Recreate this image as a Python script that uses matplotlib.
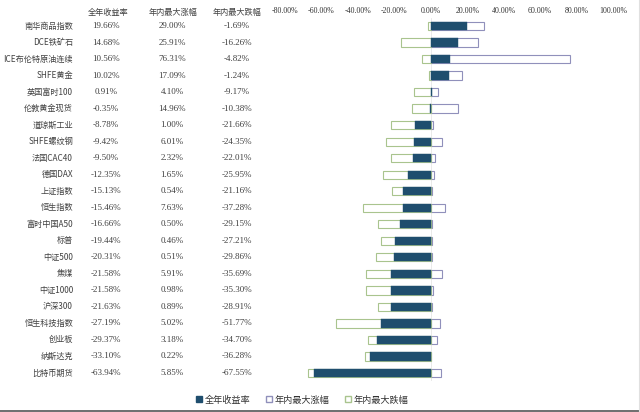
import matplotlib
matplotlib.use("Agg")
import matplotlib.pyplot as plt
from matplotlib.patches import Patch
from matplotlib.lines import Line2D
import matplotlib.ticker as mticker
import matplotlib.transforms as mtrans

plt.rcParams['font.family'] = ['Noto Sans CJK SC', 'DejaVu Sans']

names = ["南华商品指数", "DCE铁矿石", "ICE布伦特原油连续", "SHFE黄金", "英国富时100",
         "伦敦黄金现货", "道琼斯工业", "SHFE螺纹钢", "法国CAC40", "德国DAX", "上证指数",
         "恒生指数", "富时中国A50", "标普", "中证500", "焦煤", "中证1000", "沪深300",
         "恒生科技指数", "创业板", "纳斯达克", "比特币期货"]
ret = [19.66, 14.68, 10.56, 10.02, 0.91, -0.35, -8.78, -9.42, -9.50, -12.35, -15.13,
       -15.46, -16.66, -19.44, -20.31, -21.58, -21.58, -21.63, -27.19, -29.37, -33.10, -63.94]
gain = [29.00, 25.91, 76.31, 17.09, 4.10, 14.96, 1.00, 6.01, 2.32, 1.65, 0.54,
        7.63, 0.50, 0.46, 0.51, 5.91, 0.98, 0.89, 5.02, 3.18, 0.22, 5.85]
drop = [-1.69, -16.26, -4.82, -1.24, -9.17, -10.38, -21.66, -24.35, -22.01, -25.95, -21.16,
        -37.28, -29.15, -27.21, -29.86, -35.69, -35.30, -28.91, -51.77, -34.70, -36.28, -67.55]
headers = ["全年收益率", "年内最大涨幅", "年内最大跌幅"]
xticks = [-80, -60, -40, -20, 0, 20, 40, 60, 80, 100]

NAVY = "#1f4e6e"
GAIN_EC = "#9090bb"
DROP_EC = "#a9c48e"
TXT = "#404040"

W, H = 640, 412
fig = plt.figure(figsize=(6.4, 4.12), dpi=100)
fig.patch.set_facecolor("white")
y0, y1 = 26 - 8.26, 373 + 8.26
ax = fig.add_axes([285 / W, 1 - y1 / H, (613 - 285) / W, (y1 - y0) / H])
n = len(names)
ys = list(range(n))
h = 0.5
ax.barh(ys, gain, height=h, color="white", edgecolor=GAIN_EC, linewidth=0.8, zorder=2)
ax.barh(ys, drop, height=h, color="white", edgecolor=DROP_EC, linewidth=0.8, zorder=2)
ax.barh(ys, ret, height=h, color=NAVY, edgecolor=NAVY, linewidth=0.3, zorder=3)
ax.axvline(0, color="#e6e6e6", lw=0.6, zorder=1)
ax.set_xlim(-80, 100)
ax.set_ylim(n - 0.5, -0.5)
ax.set_yticks([])
ax.xaxis.tick_top()
ax.set_xticks(xticks)
ax.xaxis.set_major_formatter(mticker.FuncFormatter(lambda v, _: f"{v:.2f}%"))
ax.tick_params(axis="x", length=0, pad=2, labelsize=5.7, labelcolor="#333333")
for lab in ax.get_xticklabels():
    lab.set_fontfamily(["Liberation Serif"])
for sp in ax.spines.values():
    sp.set_visible(False)

# table on the left
blend = mtrans.blended_transform_factory(fig.transFigure, ax.transData)
for i, nm in enumerate(names):
    fig.text(73 / W, i, nm, transform=blend, ha="right", va="center", fontsize=5.9, color=TXT)
    fig.text(106 / W, i, f"{ret[i]:.2f}%", transform=blend, ha="center", va="center",
             fontsize=6.5, color=TXT, family=["Liberation Serif"])
    fig.text(172 / W, i, f"{gain[i]:.2f}%", transform=blend, ha="center", va="center",
             fontsize=6.5, color=TXT, family=["Liberation Serif"])
    fig.text(237 / W, i, f"{drop[i]:.2f}%", transform=blend, ha="center", va="center",
             fontsize=6.5, color=TXT, family=["Liberation Serif"])
for xh, hd in zip([108, 173, 237], headers):
    fig.text(xh / W, 1 - 12 / H, hd, ha="center", va="center", fontsize=5.9, color=TXT)

handles = [Patch(facecolor=NAVY, edgecolor=NAVY),
           Patch(facecolor="white", edgecolor=GAIN_EC),
           Patch(facecolor="white", edgecolor=DROP_EC)]
fig.legend(handles, ["全年收益率", "年内最大涨幅", "年内最大跌幅"], loc="center",
           bbox_to_anchor=(302 / W, 1 - 400 / H), ncol=3, frameon=False,
           fontsize=6.6, handlelength=0.65, handleheight=0.65, handletextpad=0.3,
           columnspacing=1.7, labelcolor="#333333")

# screenshot frame lines
fig.add_artist(Line2D([0, 1], [1.5 / H, 1.5 / H], transform=fig.transFigure, color="#555555", lw=1.2))
fig.add_artist(Line2D([638.5 / W, 638.5 / W], [0, 1], transform=fig.transFigure, color="#e0e0e0", lw=0.8))

fig.savefig("out.png", dpi=100)
